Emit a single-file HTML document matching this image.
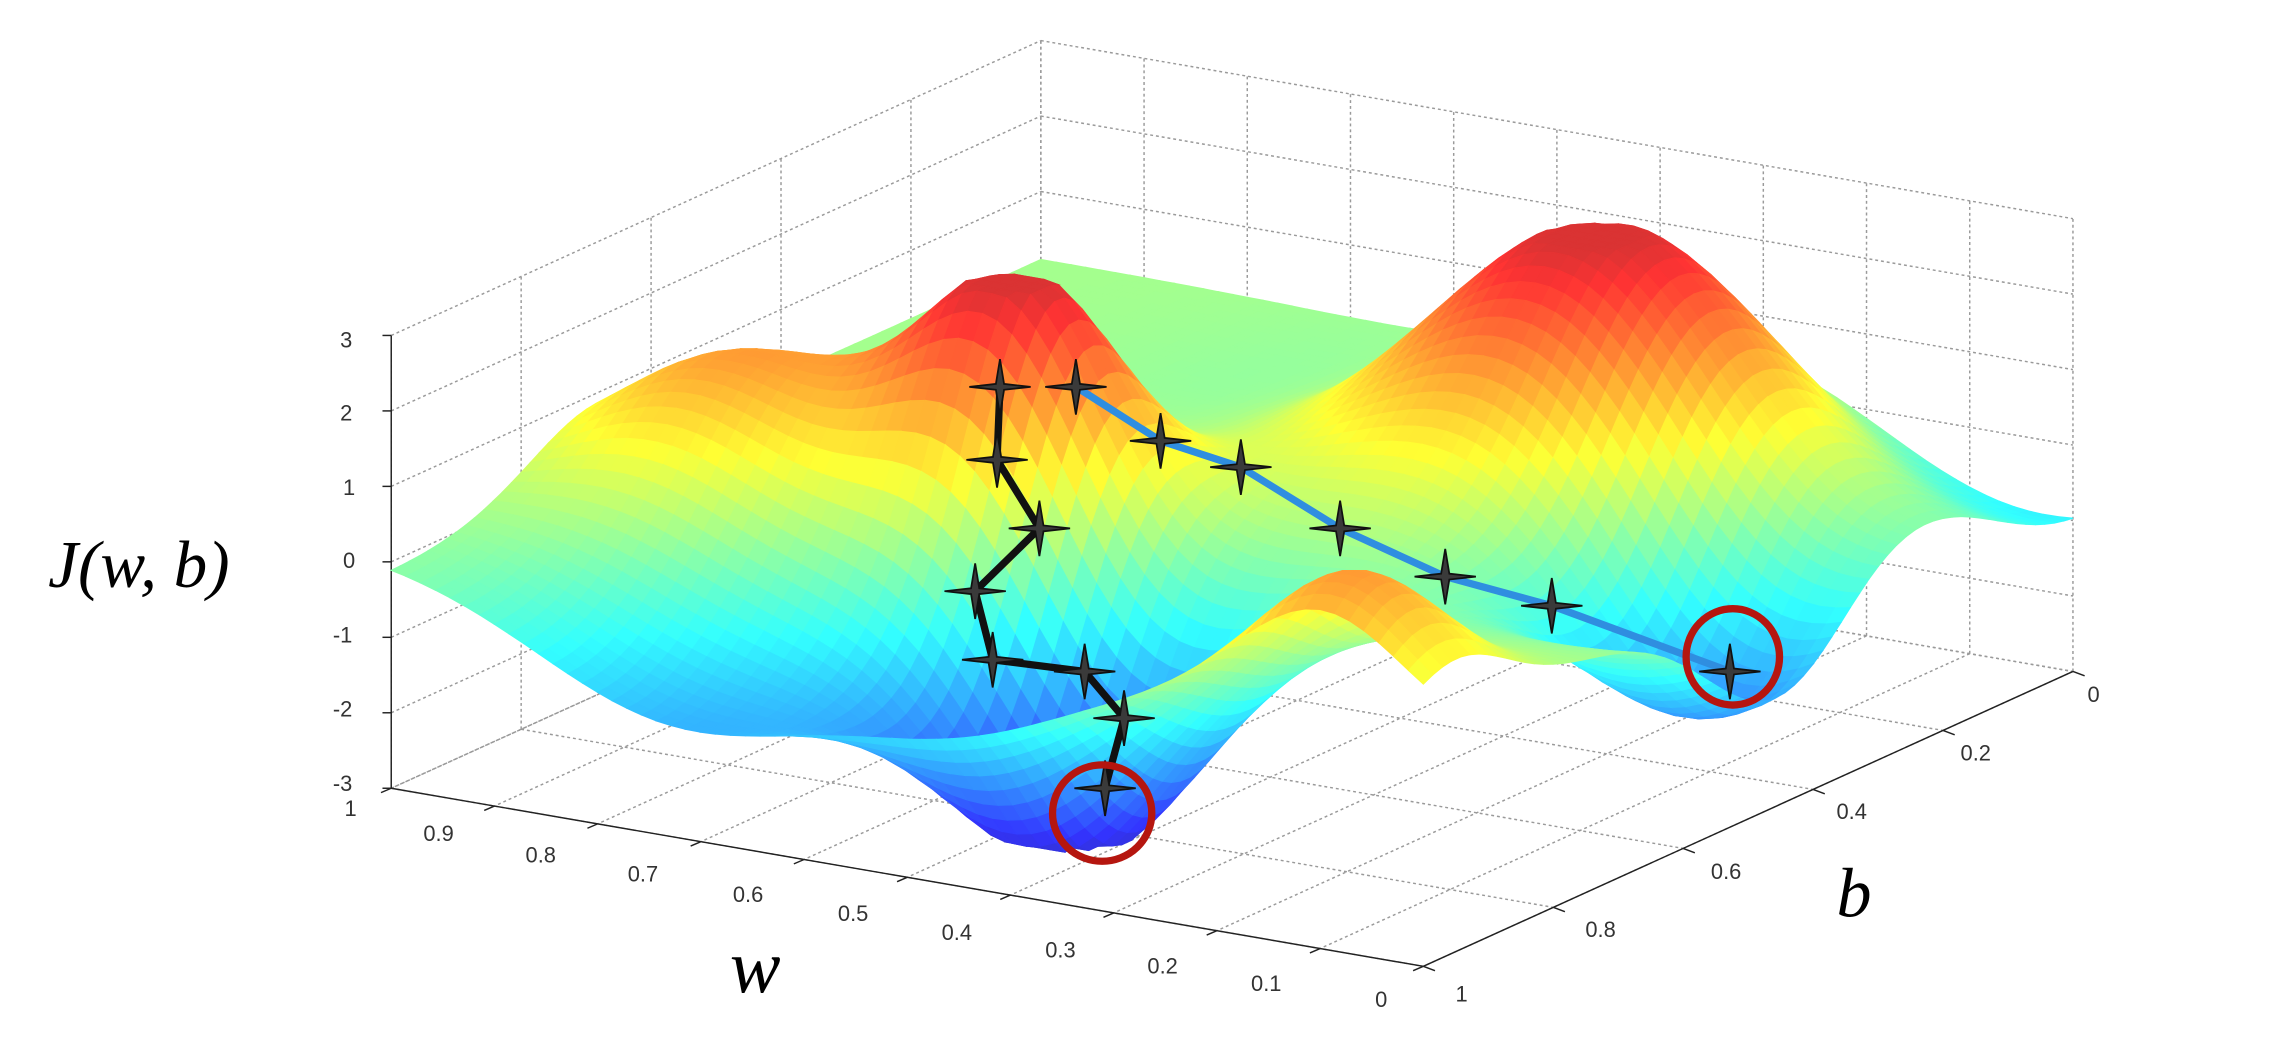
<!DOCTYPE html>
<html><head><meta charset="utf-8"><style>
html,body{margin:0;padding:0;background:#fff;overflow:hidden}
svg{display:block}
.t{font-family:"Liberation Sans",sans-serif;font-size:15px;fill:#333}
.lab{font-family:"Liberation Serif",serif;font-style:italic;fill:#000}
</style></head><body>
<svg id="s" width="2289" height="1051" viewBox="0 0 1568 720" preserveAspectRatio="none" xmlns="http://www.w3.org/2000/svg">
<g id="grid"></g><g id="surf"></g><g id="paths"></g>
<g>
<text class="t" x="233" y="238">3</text><text class="t" x="233" y="288">2</text><text class="t" x="235" y="339">1</text><text class="t" x="235" y="389">0</text><text class="t" x="228" y="440">-1</text><text class="t" x="228" y="491">-2</text><text class="t" x="228" y="542">-3</text>
<text class="t" x="236" y="559">1</text><text class="t" x="290" y="576">0.9</text><text class="t" x="360" y="591">0.8</text><text class="t" x="430" y="604">0.7</text><text class="t" x="502" y="618">0.6</text><text class="t" x="574" y="631">0.5</text><text class="t" x="645" y="644">0.4</text><text class="t" x="716" y="656">0.3</text><text class="t" x="786" y="667">0.2</text><text class="t" x="857" y="679">0.1</text><text class="t" x="942" y="690">0</text>
<text class="t" x="1430" y="481">0</text><text class="t" x="1343" y="521">0.2</text><text class="t" x="1258" y="561">0.4</text><text class="t" x="1172" y="602">0.6</text><text class="t" x="1086" y="642">0.8</text><text class="t" x="997" y="686">1</text>
<text class="lab" x="33" y="402" font-size="46">J(w, b)</text>
<text class="lab" x="500" y="680" font-size="52">w</text>
<text class="lab" x="1258" y="628" font-size="48">b</text>
</g>
</svg>
<script>
var NS="http://www.w3.org/2000/svg";
function P(w,b,z){var u=1-w,v=1-b;return [268+707*u+445*v,540+122*u-202*v-(z+3)*51.7];}
function el(p,t,a){var e=document.createElementNS(NS,t);for(var k in a)e.setAttribute(k,a[k]);p.appendChild(e);return e;}
var g=document.getElementById('grid');
function line(a,b,st){el(g,'line',{x1:a[0],y1:a[1],x2:b[0],y2:b[1],stroke:st||'#9a9a9a','stroke-width':1,'stroke-dasharray':st?'':'2,2'});}
var i;
for(i=-3;i<=3;i++){line(P(1,1,i),P(1,0,i));line(P(1,0,i),P(0,0,i));}
for(i=0;i<=10;i++){var w=i/10;line(P(w,0,-3),P(w,0,3));line(P(w,0,-3),P(w,1,-3));}
for(i=0;i<=5;i++){var b=i/5;line(P(1,b,-3),P(1,b,3));line(P(1,b,-3),P(0,b,-3));}
line(P(1,1,-3),P(1,1,3),'#222');line(P(1,1,-3),P(0,1,-3),'#222');line(P(0,1,-3),P(0,0,-3),'#222');
for(i=-3;i<=3;i++){var a=P(1,1,i);line(a,[a[0]-6,a[1]],'#222');}
for(i=0;i<=10;i++){var a=P(i/10,1,-3);line(a,[a[0]-7,a[1]+3],'#222');}
for(i=0;i<=5;i++){var a=P(0,i/5,-3);line(a,[a[0]+8,a[1]+3],'#222');}
function G(w,b,w0,b0,s,A){var d=((w-w0)*(w-w0)+(b-b0)*(b-b0))/(2*s*s);return A*Math.exp(-d);}
function J(w,b){var z=0.1;
z+=G(w,b,0.63,0.62,0.085,3.1);z+=G(w,b,0.3,0.25,0.14,3.3);
z+=G(w,b,0.45,0.82,0.11,-3.4);z+=G(w,b,0.08,0.45,0.11,-2.3);
z+=G(w,b,0.1,0.95,0.08,1.7);z+=G(w,b,0.88,0.68,0.1,1.6);
z+=G(w,b,0.72,1.0,0.14,-1.6);z+=G(w,b,0.05,0.0,0.15,-1.2);
z+=G(w,b,0.55,0.2,0.15,-0.3);z+=G(w,b,0.75,0.55,0.1,0.4);
return Math.max(-3,Math.min(3,z));}
function jet(t){t=0.08+0.84*Math.max(0,Math.min(1,t));function c(x){return Math.max(0,Math.min(1,x));}
var r=c(1.5-Math.abs(4*t-3)),gg=c(1.5-Math.abs(4*t-2)),bb=c(1.5-Math.abs(4*t-1));
var m=0.2;function f(x){return Math.round(255*(x*(1-m)+m));}
return 'rgb('+f(r)+','+f(gg)+','+f(bb)+')';}
var N=70,q=[];
for(var a2=0;a2<N;a2++)for(var b2=0;b2<N;b2++){
var w0=a2/N,w1=(a2+1)/N,b0=b2/N,b1=(b2+1)/N;
var z00=J(w0,b0),z10=J(w1,b0),z11=J(w1,b1),z01=J(w0,b1);
var zm=(z00+z10+z11+z01)/4;
var pts=[P(w0,b0,z00),P(w1,b0,z10),P(w1,b1,z11),P(w0,b1,z01)];
q.push({d:(1-(w0+w1)/2)-(1-(b0+b1)/2),p:pts,c:jet((zm+3)/6)});}
q.sort(function(x,y){return x.d-y.d;});
var sg=document.getElementById('surf');
q.forEach(function(o){el(sg,'polygon',{points:o.p.map(function(p){return p[0].toFixed(1)+','+p[1].toFixed(1)}).join(' '),fill:o.c,stroke:o.c,'stroke-width':0.8});});
var pg=document.getElementById('paths');
var bk=[[685,265],[683,315],[712,362],[668,405],[680,452],[743,460],[770,492],[757,540]];
var bl=[[737,265],[795,302],[850,320],[918,362],[990,395],[1063,415],[1185,460]];
el(pg,'polyline',{points:bl.join(' '),fill:'none',stroke:'#2f8ee0','stroke-width':5});
el(pg,'polyline',{points:bk.join(' '),fill:'none',stroke:'#111','stroke-width':5});
function star(x,y){var s=[];for(var k=0;k<8;k++){var ang=k*Math.PI/4-Math.PI/2,r=(k%2==0)?(k%4==0?19:21):4;s.push((x+r*Math.cos(ang)).toFixed(1)+','+(y+r*Math.sin(ang)*(k%4==0?1:0.7)).toFixed(1));}
el(pg,'polygon',{points:s.join(' '),fill:'#3a3a3a',stroke:'#111','stroke-width':1.2});}
bk.concat(bl).forEach(function(p){star(p[0],p[1]);});
el(pg,'ellipse',{cx:755,cy:557,rx:34,ry:33,fill:'none',stroke:'#b5160f','stroke-width':5});
el(pg,'ellipse',{cx:1187,cy:450,rx:32,ry:33,fill:'none',stroke:'#b5160f','stroke-width':5});
</script>
</body></html>
